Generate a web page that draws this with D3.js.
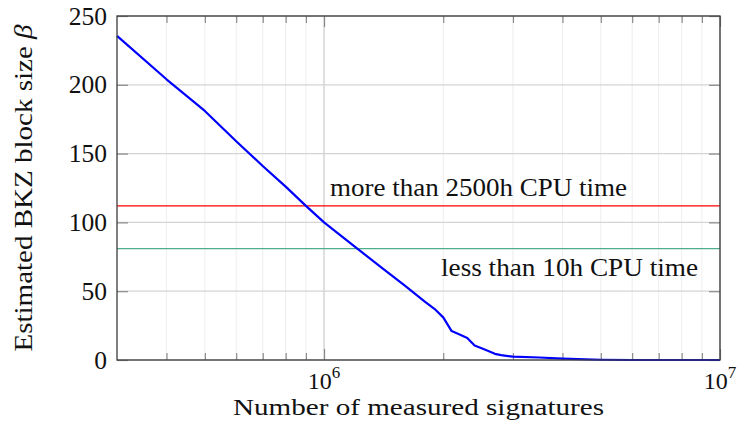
<!DOCTYPE html>
<html>
<head>
<meta charset="utf-8">
<script src="https://cdn.jsdelivr.net/npm/d3@7"></script>
<style>
html,body{margin:0;padding:0;background:#fff;}
svg{display:block;}
</style>
</head>
<body>
<svg id="chart" width="738" height="434" font-family="'Liberation Serif', 'DejaVu Serif', serif"></svg>
<script>
// ---- data ----
const signatures = [3e5, 4e5, 5e5, 6e5, 7e5, 8e5, 9e5, 1e6, 1.2e6, 1.4e6, 1.6e6, 1.8e6, 1.9e6, 2e6, 2.1e6, 2.2e6, 2.3e6, 2.4e6, 2.5e6, 2.6e6, 2.7e6, 2.8e6, 3e6, 3.5e6, 4e6, 5e6, 6e6, 8e6, 1e7];
const blockSize  = [235.5, 204, 181, 159, 141, 126, 112, 100, 82, 67, 54, 42.3, 37.2, 31, 21, 18.5, 16, 10.5, 8.5, 6.5, 4.5, 3.5, 2.4, 1.8, 1.0, 0.2, 0, 0, 0];
const thresholdValues = [112, 81];
const thresholdLabels = ["more than 2500h CPU time", "less than 10h CPU time"];
const yTicks = [0, 50, 100, 150, 200, 250];
const xMajorTicks = [1e6, 1e7];
const xMajorExponents = ["6", "7"];
const xMinorTicks = [4e5, 5e5, 6e5, 7e5, 8e5, 9e5, 2e6, 3e6, 4e6, 5e6, 6e6, 7e6, 8e6, 9e6];
const xLabel = "Number of measured signatures";
const yLabel = "Estimated BKZ block size ";
const yLabelSymbol = "β";

// ---- layout ----
const L = 117, R = 720, T = 16, B = 360;
const FONT = "'Liberation Serif', 'DejaVu Serif', serif";
const svg = d3.select("#chart");
const x = d3.scaleLog().domain([3e5, 1e7]).range([L, R]);
const y = d3.scaleLinear().domain([0, 250]).range([B, T]);

// minor vertical grid
svg.append("g").selectAll("line").data(xMinorTicks).join("line")
  .attr("x1", d => x(d)).attr("x2", d => x(d)).attr("y1", T).attr("y2", B)
  .attr("stroke", "#ececec").attr("stroke-width", 0.9);
// major vertical grid
svg.append("g").selectAll("line").data(xMajorTicks).join("line")
  .attr("x1", d => x(d)).attr("x2", d => x(d)).attr("y1", T).attr("y2", B)
  .attr("stroke", "#b8b8b8").attr("stroke-width", 0.9);
// horizontal grid
svg.append("g").selectAll("line").data(yTicks).join("line")
  .attr("x1", L).attr("x2", R).attr("y1", d => y(d)).attr("y2", d => y(d))
  .attr("stroke", "#d4d4d4").attr("stroke-width", 1.3);

// ticks (inward) via axis generators
function styleAxis(g){
  g.select(".domain").remove();
  g.selectAll(".tick line").attr("stroke", "#8a8a8a").attr("stroke-width", 1.2);
  g.selectAll(".tick text").remove();
}
svg.append("g").attr("transform", `translate(0,${B})`)
  .call(d3.axisBottom(x).tickValues(xMinorTicks).tickSize(-7).tickFormat("")).call(styleAxis);
svg.append("g").attr("transform", `translate(0,${T})`)
  .call(d3.axisTop(x).tickValues(xMinorTicks).tickSize(-7).tickFormat("")).call(styleAxis);
svg.append("g").attr("transform", `translate(0,${B})`)
  .call(d3.axisBottom(x).tickValues(xMajorTicks).tickSize(-11).tickFormat("")).call(styleAxis);
svg.append("g").attr("transform", `translate(0,${T})`)
  .call(d3.axisTop(x).tickValues(xMajorTicks).tickSize(-11).tickFormat("")).call(styleAxis);
svg.append("g").attr("transform", `translate(${L},0)`)
  .call(d3.axisLeft(y).tickValues(yTicks).tickSize(-11).tickFormat("")).call(styleAxis);
svg.append("g").attr("transform", `translate(${R},0)`)
  .call(d3.axisRight(y).tickValues(yTicks).tickSize(-11).tickFormat("")).call(styleAxis);

// threshold lines
const thrColors = ["#ff0000", "#4fae8a"];
svg.append("g").selectAll("line").data(thresholdValues).join("line")
  .attr("x1", L).attr("x2", R).attr("y1", d => y(d)).attr("y2", d => y(d))
  .attr("stroke", (d, i) => thrColors[i]).attr("stroke-width", 1.3);

// curve
const line = d3.line().x((d, i) => x(signatures[i])).y(d => y(d));
svg.append("path").datum(blockSize).attr("d", line)
  .attr("fill", "none").attr("stroke", "#0000ff").attr("stroke-width", 2.2)
  .attr("stroke-linejoin", "round");

// frame
svg.append("rect").attr("x", L).attr("y", T).attr("width", R - L).attr("height", B - T)
  .attr("fill", "none").attr("stroke", "#3c3c3c").attr("stroke-width", 1.3);

// y tick labels
svg.append("g").selectAll("text").data(yTicks).join("text")
  .attr("x", 107).attr("y", d => y(d) + 8.5).attr("text-anchor", "end")
  .attr("font-family", FONT).attr("fill", "#111")
  .attr("font-size", 25.5).text(d => d);

// x tick labels 10^n
const xl = svg.append("g").selectAll("text").data(xMajorTicks).join("text")
  .attr("x", d => x(d)).attr("y", 389).attr("text-anchor", "middle")
  .attr("font-family", FONT).attr("fill", "#111").attr("font-size", 24);
xl.append("tspan").text("10");
xl.append("tspan").attr("dy", -11).attr("font-size", 17).text((d, i) => xMajorExponents[i]);

// annotation labels
const annPos = [{x: 330, y: 196, w: 297}, {x: 441, y: 276, w: 257}];
svg.append("g").selectAll("text").data(thresholdLabels).join("text")
  .attr("x", (d, i) => annPos[i].x).attr("y", (d, i) => annPos[i].y)
  .attr("font-family", FONT).attr("fill", "#111")
  .attr("font-size", 25).attr("textLength", (d, i) => annPos[i].w)
  .attr("lengthAdjust", "spacingAndGlyphs").text(d => d);

// axis labels
svg.append("text").attr("x", 233).attr("y", 415).attr("font-size", 24)
  .attr("font-family", FONT).attr("fill", "#111")
  .attr("textLength", 371).attr("lengthAdjust", "spacingAndGlyphs").text(xLabel);
const yl = svg.append("text").attr("transform", `translate(32,${(T + B) / 2}) rotate(-90)`)
  .attr("text-anchor", "middle").attr("font-size", 25.5)
  .attr("font-family", FONT).attr("fill", "#111")
  .attr("textLength", 327).attr("lengthAdjust", "spacingAndGlyphs");
yl.append("tspan").text(yLabel);
yl.append("tspan").attr("font-style", "italic").text(yLabelSymbol);
</script>
</body>
</html>
